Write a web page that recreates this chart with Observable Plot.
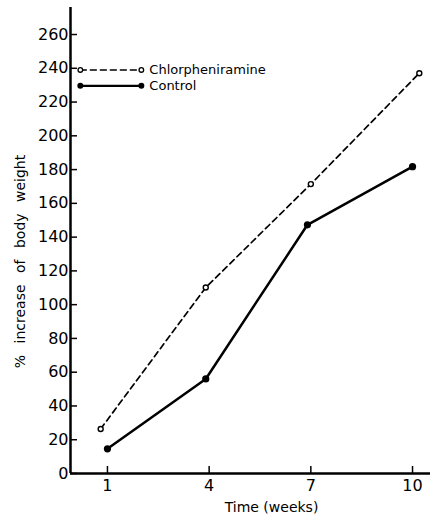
<!DOCTYPE html>
<html><head><meta charset="utf-8">
<script src="https://cdn.jsdelivr.net/npm/d3@7"></script>
<script src="https://cdn.jsdelivr.net/npm/@observablehq/plot@0.6"></script>
<style>
html,body{margin:0;padding:0;background:#fff;}
</style></head><body><div id="chart"></div>
<script>
// Data
const seriesNames = ["Chlorpheniramine", "Control"];
const chlorWeeks = [0.8, 3.9, 7.0, 10.2];
const chlorValues = [26.4, 110.2, 171.4, 237.1];
const controlWeeks = [1.0, 3.9, 6.9, 10.0];
const controlValues = [14.6, 56.0, 147.3, 181.7];
const xTicks = [1, 4, 7, 10];
const yTicks = [0, 20, 40, 60, 80, 100, 120, 140, 160, 180, 200, 220, 240, 260];
const xLabel = "Time (weeks)";
const yLabel = "% increase of body weight";
// legend sample positions (data coordinates)
const legendWeeks = [0.2, 2.0];
const legendValues = [239, 229.6];

const chlor = chlorWeeks.map((w, i) => ({week: w, value: chlorValues[i]}));
const control = controlWeeks.map((w, i) => ({week: w, value: controlValues[i]}));
const legChlor = legendWeeks.map(w => ({week: w, value: legendValues[0]}));
const legControl = legendWeeks.map(w => ({week: w, value: legendValues[1]}));

const xDomain = [-0.09, 10.53];
const yDomain = [0, 276];

const W = 435, H = 520, mL = 70, mR = 5, mT = 7, mB = 47;

const chart = Plot.plot({
  width: W, height: H,
  marginLeft: mL, marginRight: mR, marginTop: mT, marginBottom: mB,
  style: {fontFamily: "DejaVu Sans", fontSize: "16px", color: "black", background: "white"},
  x: {domain: xDomain},
  y: {domain: yDomain},
  marks: [
    Plot.axisY({ticks: yTicks, tickSize: 0, tickPadding: 2, label: null}),
    Plot.axisX({ticks: xTicks, tickSize: 0, tickPadding: 6, label: null}),
    Plot.tickY(yTicks, {y: d => d, insetRight: (W - mL - mR) - 7, strokeWidth: 1.5}),
    Plot.tickX(xTicks, {x: d => d, insetTop: (H - mT - mB) - 7, strokeWidth: 1.5}),
    Plot.ruleX([xDomain[0]], {strokeWidth: 2.5}),
    Plot.ruleY([0], {strokeWidth: 2.5}),
    Plot.line(chlor, {x: "week", y: "value", strokeDasharray: "6,4", strokeWidth: 1.7}),
    Plot.line(control, {x: "week", y: "value", strokeWidth: 2.5}),
    Plot.dot(chlor, {x: "week", y: "value", r: 2.5, fill: "white", stroke: "black", strokeWidth: 1.4}),
    Plot.dot(control, {x: "week", y: "value", r: 3.6, fill: "black", stroke: "none"}),
    Plot.line(legChlor, {x: "week", y: "value", strokeDasharray: "6,4", strokeWidth: 1.5}),
    Plot.line(legControl, {x: "week", y: "value", strokeWidth: 2.3}),
    Plot.dot(legChlor, {x: "week", y: "value", r: 2.3, fill: "white", stroke: "black", strokeWidth: 1.3}),
    Plot.dot(legControl, {x: "week", y: "value", r: 3, fill: "black", stroke: "none"}),
    Plot.text([seriesNames[0]], {x: legendWeeks[1], y: legendValues[0], text: d => d, textAnchor: "start", dx: 8, fontSize: 13}),
    Plot.text([seriesNames[1]], {x: legendWeeks[1], y: legendValues[1], text: d => d, textAnchor: "start", dx: 8, fontSize: 13}),
    Plot.text([xLabel], {frameAnchor: "bottom", text: d => d, dy: 38, dx: 21, fontSize: 14}),
    Plot.text([yLabel], {frameAnchor: "left", textAnchor: "middle", text: d => d, rotate: -90, dx: -50, dy: 21, fontSize: 14})
  ]
});
document.getElementById("chart").appendChild(chart);
chart.querySelectorAll("text").forEach(t => {
  if (t.textContent === yLabel) t.setAttribute("word-spacing", "7");
});
</script>
</body></html>
